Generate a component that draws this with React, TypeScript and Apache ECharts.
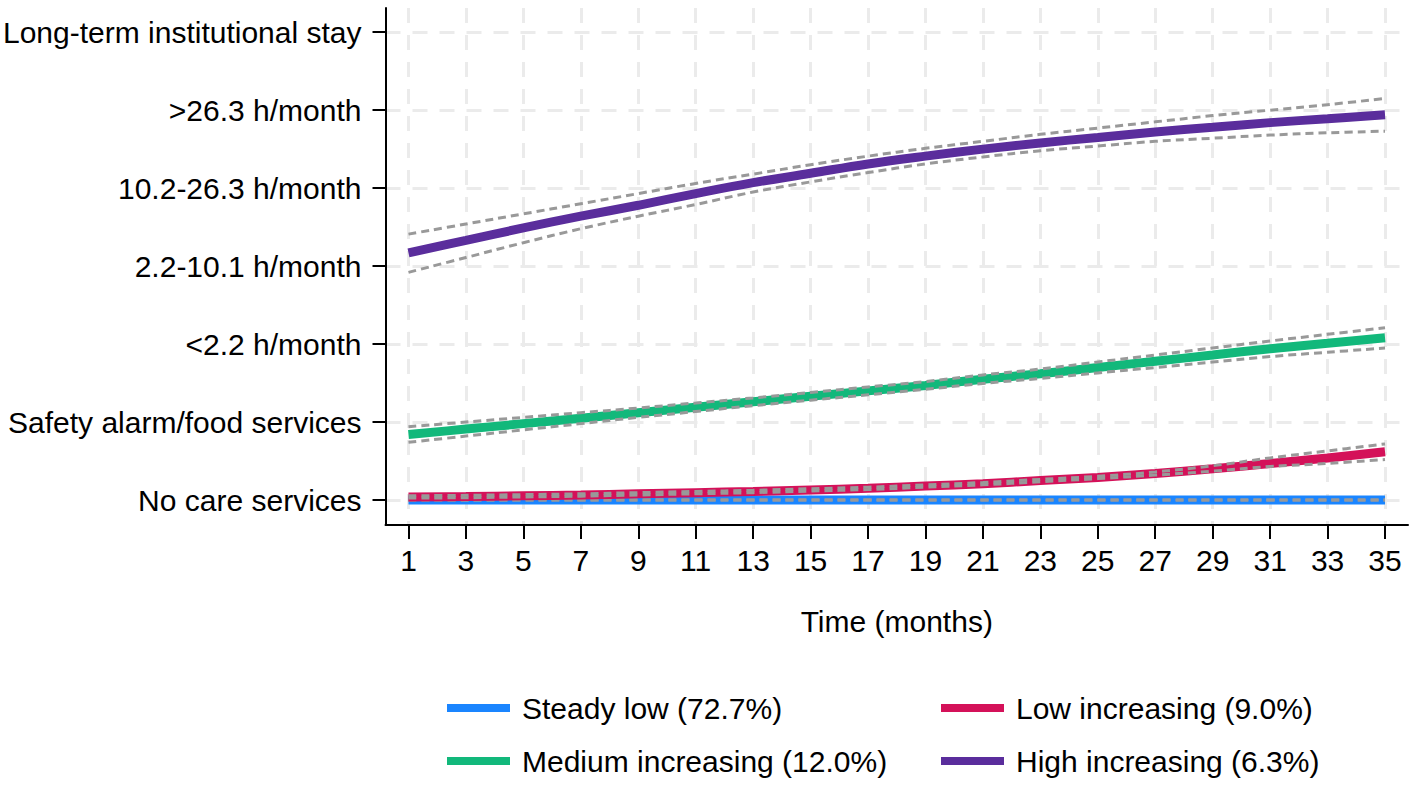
import React, { useEffect, useRef } from "react";
import * as echarts from "echarts";

const months = [1, 3, 5, 7, 9, 11, 13, 15, 17, 19, 21, 23, 25, 27, 29, 31, 33, 35];
const yLevels = [
  "No care services",
  "Safety alarm/food services",
  "<2.2 h/month",
  "2.2-10.1 h/month",
  "10.2-26.3 h/month",
  ">26.3 h/month",
  "Long-term institutional stay",
];
const levelValues = [0, 1, 2, 3, 4, 5, 6];

const steadyLow = [0, 0, 0, 0, 0, 0, 0, 0, 0, 0, 0, 0, 0, 0, 0, 0, 0, 0];
const steadyLowUpper = [0, 0, 0, 0, 0, 0, 0, 0, 0, 0, 0, 0, 0, 0, 0, 0, 0, 0];
const steadyLowLower = [0, 0, 0, 0, 0, 0, 0, 0, 0, 0, 0, 0, 0, 0, 0, 0, 0, 0];

const lowInc = [0.04, 0.045, 0.055, 0.065, 0.08, 0.095, 0.11, 0.13, 0.15, 0.18, 0.21, 0.25, 0.29, 0.34, 0.4, 0.47, 0.54, 0.62];
const lowIncUpper = [0.055, 0.06, 0.07, 0.08, 0.095, 0.11, 0.125, 0.145, 0.165, 0.195, 0.225, 0.265, 0.305, 0.36, 0.44, 0.54, 0.63, 0.72];
const lowIncLower = [0.025, 0.03, 0.04, 0.05, 0.065, 0.08, 0.095, 0.115, 0.135, 0.165, 0.195, 0.235, 0.275, 0.32, 0.37, 0.43, 0.47, 0.52];

const medInc = [0.84, 0.91, 0.98, 1.05, 1.12, 1.19, 1.26, 1.33, 1.4, 1.47, 1.55, 1.62, 1.7, 1.78, 1.86, 1.94, 2.01, 2.08];
const medIncUpper = [0.94, 1.0, 1.06, 1.12, 1.18, 1.245, 1.31, 1.38, 1.45, 1.52, 1.605, 1.68, 1.77, 1.86, 1.95, 2.04, 2.125, 2.21];
const medIncLower = [0.74, 0.82, 0.9, 0.98, 1.06, 1.135, 1.21, 1.28, 1.35, 1.42, 1.495, 1.56, 1.63, 1.7, 1.77, 1.84, 1.895, 1.95];

const highInc = [3.17, 3.33, 3.49, 3.64, 3.78, 3.93, 4.07, 4.19, 4.31, 4.41, 4.5, 4.58, 4.65, 4.72, 4.78, 4.84, 4.89, 4.94];
const highIncUpper = [3.41, 3.54, 3.67, 3.8, 3.93, 4.06, 4.18, 4.3, 4.41, 4.51, 4.6, 4.69, 4.77, 4.85, 4.93, 5.0, 5.07, 5.15];
const highIncLower = [2.92, 3.11, 3.3, 3.48, 3.64, 3.79, 3.95, 4.08, 4.2, 4.31, 4.4, 4.48, 4.54, 4.6, 4.64, 4.68, 4.71, 4.73];

const groups = [
  { name: "Steady low (72.7%)", color: "#1A85FF", mean: steadyLow, upper: steadyLowUpper, lower: steadyLowLower },
  { name: "Low increasing (9.0%)", color: "#D41159", mean: lowInc, upper: lowIncUpper, lower: lowIncLower },
  { name: "Medium increasing (12.0%)", color: "#12B87B", mean: medInc, upper: medIncUpper, lower: medIncLower },
  { name: "High increasing (6.3%)", color: "#5A2D9C", mean: highInc, upper: highIncUpper, lower: highIncLower },
];

const FONT = "'Liberation Sans', Arial, Helvetica, sans-serif";

const pairs = (vals: number[]) => months.map((m, i) => [m, vals[i]]);

function buildOption() {
  const series: any[] = [];
  groups.forEach((g) => {
    series.push({
      name: g.name,
      type: "line",
      data: pairs(g.mean),
      smooth: 0.4,
      showSymbol: false,
      symbol: "none",
      lineStyle: { color: g.color, width: 9, cap: "butt" },
      itemStyle: { color: g.color },
    });
    [g.upper, g.lower].forEach((ci) => {
      series.push({
        name: g.name + " CI",
        type: "line",
        data: pairs(ci),
        smooth: 0.4,
        showSymbol: false,
        symbol: "none",
        lineStyle: { color: "#999999", width: 3, type: [8, 5], cap: "butt" },
      });
    });
  });

  const legendBase = {
    orient: "vertical",
    icon: "rect",
    itemWidth: 63,
    itemHeight: 8,
    itemGap: 21,
    height: 120,
    padding: 0,
    textStyle: { fontFamily: FONT, fontSize: 30, color: "#000", lineHeight: 32, padding: [0, 0, 0, 7] },
  };

  return {
    animation: false,
    backgroundColor: "#ffffff",
    grid: { left: 385, right: 9, top: 8, bottom: 260, containLabel: false },
    legend: [
      { ...legendBase, left: 447, top: 692, data: [groups[0].name, groups[2].name] },
      { ...legendBase, left: 941, top: 692, data: [groups[1].name, groups[3].name] },
    ],
    xAxis: {
      type: "value",
      min: 0.2,
      max: 35.8,
      name: "Time (months)",
      nameLocation: "middle",
      nameGap: 81,
      nameTextStyle: { fontFamily: FONT, fontSize: 30, color: "#000" },
      axisLine: { show: true, onZero: false, lineStyle: { color: "#000", width: 2 } },
      axisTick: { show: true, length: 14, lineStyle: { color: "#000", width: 2 }, customValues: months },
      axisLabel: { customValues: months, fontFamily: FONT, fontSize: 30, color: "#000", margin: 20 },
      splitLine: { show: true, lineStyle: { color: "#ebebeb", width: 3, type: [15, 12] } },
    },
    yAxis: {
      type: "value",
      min: -0.32,
      max: 6.31,
      axisLine: { show: true, onZero: false, lineStyle: { color: "#000", width: 2 } },
      axisTick: { show: true, length: 13, lineStyle: { color: "#000", width: 2 }, customValues: levelValues },
      axisLabel: {
        customValues: levelValues,
        formatter: (v: number) => yLevels[Math.round(v)] ?? "",
        fontFamily: FONT,
        fontSize: 30,
        color: "#000",
        margin: 24,
      },
      splitLine: { show: true, lineStyle: { color: "#ebebeb", width: 3, type: [15, 12] } },
    },
    series,
  };
}

export default function App() {
  const ref = useRef<HTMLDivElement>(null);
  useEffect(() => {
    document.body.style.margin = "0";
    const chart = echarts.init(ref.current!, null, { renderer: "svg" });
    chart.setOption(buildOption() as any);
    return () => chart.dispose();
  }, []);
  return <div ref={ref} style={{ width: 1417, height: 785 }} />;
}
